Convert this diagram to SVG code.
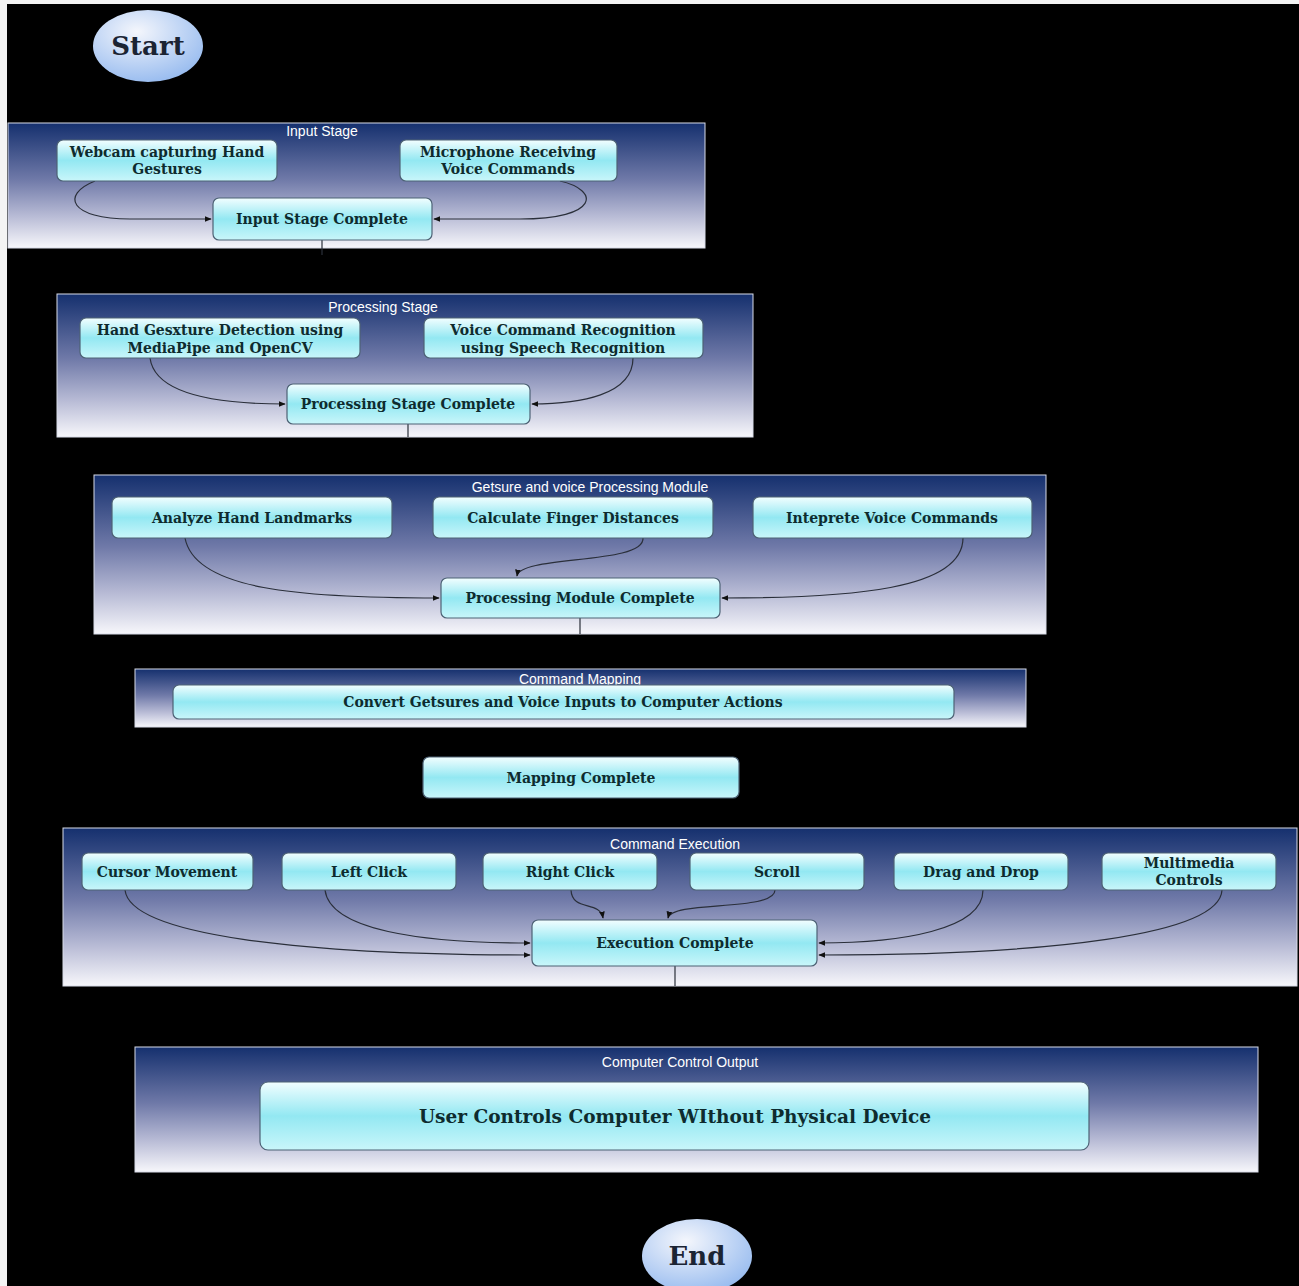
<svg xmlns="http://www.w3.org/2000/svg" width="1299" height="1286" viewBox="0 0 1299 1286">
<defs>
<linearGradient id="gCl" x1="0" y1="0" x2="0" y2="1">
<stop offset="0" stop-color="#15306e"/>
<stop offset="0.45" stop-color="#6f79a8"/>
<stop offset="0.75" stop-color="#b9bcd6"/>
<stop offset="1" stop-color="#f7f7fb"/>
</linearGradient>
<linearGradient id="gNode" x1="0" y1="0" x2="0" y2="1">
<stop offset="0" stop-color="#f2feff"/>
<stop offset="0.5" stop-color="#93e8f2"/>
<stop offset="1" stop-color="#c9f6fa"/>
</linearGradient>
<radialGradient id="gEll" cx="0.4" cy="0.3" r="0.8">
<stop offset="0" stop-color="#f4f6fc"/>
<stop offset="1" stop-color="#8fb6ee"/>
</radialGradient>
<marker id="arr" viewBox="0 0 10 10" refX="9" refY="5" markerWidth="6" markerHeight="6" orient="auto">
<path d="M0,1 L10,5 L0,9 z" fill="#111"/>
</marker>
</defs>
<style>
.cl{fill:url(#gCl);stroke:#d8dbe8;stroke-width:1}
.ct{font-family:"Liberation Sans",Arial,sans-serif;font-size:14px;fill:#ffffff;text-anchor:middle}
.nd{fill:url(#gNode);stroke:#4d6275;stroke-width:1.2}
.nt{font-family:"DejaVu Serif","Liberation Serif",serif;font-size:14px;font-weight:bold;fill:#0e2b2e;text-anchor:middle}
.big{font-size:18.5px}
.el{fill:url(#gEll);stroke:none}
.et{font-family:"DejaVu Serif","Liberation Serif",serif;font-size:26px;font-weight:bold;fill:#1b2433;text-anchor:middle}
.ed{fill:none;stroke:#2a2f3a;stroke-width:1.2}
.ln{fill:none;stroke:#2a2f3a;stroke-width:1.2}
</style>
<rect x="0" y="0" width="1299" height="1286" fill="#000"/>
<rect x="0" y="0" width="1299" height="4" fill="#f4f4f4"/>
<rect x="0" y="0" width="7" height="1286" fill="#f4f4f4"/>

<g id="start"><ellipse class="el" cx="148" cy="46" rx="55" ry="36"/><text class="et" x="148" y="55">Start</text></g>

<g id="cluster-input"><rect class="cl" x="8" y="123" width="697" height="125"/><text class="ct" x="322" y="136">Input Stage</text></g>
<g id="cluster-processing"><rect class="cl" x="57" y="294" width="696" height="143"/><text class="ct" x="383" y="312">Processing Stage</text></g>
<g id="cluster-module"><rect class="cl" x="94" y="475" width="952" height="159"/><text class="ct" x="590" y="492">Getsure and voice Processing Module</text></g>
<g id="cluster-mapping"><rect class="cl" x="135" y="669" width="891" height="58"/><text class="ct" x="580" y="684">Command Mapping</text></g>
<g id="cluster-execution"><rect class="cl" x="63" y="828" width="1234" height="158"/><text class="ct" x="675" y="849">Command Execution</text></g>
<g id="cluster-output"><rect class="cl" x="135" y="1047" width="1123" height="125"/><text class="ct" x="680" y="1067">Computer Control Output</text></g>

<g id="connectors">
<path class="ed" d="M95,181 C60,195 70,219 130,219 L211,219" marker-end="url(#arr)"/>
<path class="ed" d="M560,181 C600,190 600,219 520,219 L434,219" marker-end="url(#arr)"/>
<line class="ln" x1="322" y1="240" x2="322" y2="255"/>
<path class="ed" d="M150,358 C155,395 220,404 285,404" marker-end="url(#arr)"/>
<path class="ed" d="M633,358 C633,395 580,404 532,404" marker-end="url(#arr)"/>
<line class="ln" x1="408" y1="424" x2="408" y2="437"/>
<path class="ed" d="M185,538 C195,590 300,598 439,598" marker-end="url(#arr)"/>
<path class="ed" d="M643,538 C645,565 520,555 517,576" marker-end="url(#arr)"/>
<path class="ed" d="M963,538 C963,590 850,598 722,598" marker-end="url(#arr)"/>
<line class="ln" x1="580" y1="618" x2="580" y2="634"/>
<path class="ed" d="M125,890 C130,935 300,955 530,955" marker-end="url(#arr)"/>
<path class="ed" d="M325,890 C330,930 420,943 530,943" marker-end="url(#arr)"/>
<path class="ed" d="M571,890 C572,912 600,900 603,918" marker-end="url(#arr)"/>
<path class="ed" d="M775,890 C775,912 672,900 668,918" marker-end="url(#arr)"/>
<path class="ed" d="M983,890 C983,930 900,943 819,943" marker-end="url(#arr)"/>
<path class="ed" d="M1222,890 C1220,935 1050,955 819,955" marker-end="url(#arr)"/>
<line class="ln" x1="675" y1="966" x2="675" y2="986"/>
</g>

<g id="n-webcam"><rect class="nd" x="57" y="140" width="220" height="41" rx="6"/><text class="nt" x="167" y="157">Webcam capturing Hand</text><text class="nt" x="167" y="174">Gestures</text></g>
<g id="n-mic"><rect class="nd" x="400" y="140" width="217" height="41" rx="6"/><text class="nt" x="508" y="157">Microphone Receiving</text><text class="nt" x="508" y="174">Voice Commands</text></g>
<g id="n-input-complete"><rect class="nd" x="213" y="198" width="219" height="42" rx="6"/><text class="nt" x="322" y="224">Input Stage Complete</text></g>

<g id="n-hand"><rect class="nd" x="80" y="318" width="280" height="40" rx="6"/><text class="nt" x="220" y="335">Hand Gesxture Detection using</text><text class="nt" x="220" y="353">MediaPipe and OpenCV</text></g>
<g id="n-voice"><rect class="nd" x="424" y="318" width="279" height="40" rx="6"/><text class="nt" x="563" y="335">Voice Command Recognition</text><text class="nt" x="563" y="353">using Speech Recognition</text></g>
<g id="n-proc-complete"><rect class="nd" x="287" y="384" width="243" height="40" rx="6"/><text class="nt" x="408" y="409">Processing Stage Complete</text></g>

<g id="n-analyze"><rect class="nd" x="112" y="497" width="280" height="41" rx="6"/><text class="nt" x="252" y="523">Analyze Hand Landmarks</text></g>
<g id="n-calc"><rect class="nd" x="433" y="497" width="280" height="41" rx="6"/><text class="nt" x="573" y="523">Calculate Finger Distances</text></g>
<g id="n-interp"><rect class="nd" x="753" y="497" width="279" height="41" rx="6"/><text class="nt" x="892" y="523">Inteprete Voice Commands</text></g>
<g id="n-module-complete"><rect class="nd" x="441" y="578" width="279" height="40" rx="6"/><text class="nt" x="580" y="603">Processing Module Complete</text></g>

<g id="n-convert"><rect class="nd" x="173" y="685" width="781" height="34" rx="6"/><text class="nt" x="563" y="707">Convert Getsures and Voice Inputs to Computer Actions</text></g>

<g id="n-mapping-complete"><rect class="nd" x="423" y="757" width="316" height="41" rx="6"/><text class="nt" x="581" y="783">Mapping Complete</text></g>

<g id="n-cursor"><rect class="nd" x="82" y="853" width="171" height="37" rx="6"/><text class="nt" x="167" y="877">Cursor Movement</text></g>
<g id="n-left"><rect class="nd" x="282" y="853" width="174" height="37" rx="6"/><text class="nt" x="369" y="877">Left Click</text></g>
<g id="n-right"><rect class="nd" x="483" y="853" width="174" height="37" rx="6"/><text class="nt" x="570" y="877">Right Click</text></g>
<g id="n-scroll"><rect class="nd" x="690" y="853" width="174" height="37" rx="6"/><text class="nt" x="777" y="877">Scroll</text></g>
<g id="n-drag"><rect class="nd" x="894" y="853" width="174" height="37" rx="6"/><text class="nt" x="981" y="877">Drag and Drop</text></g>
<g id="n-multi"><rect class="nd" x="1102" y="853" width="174" height="37" rx="6"/><text class="nt" x="1189" y="868">Multimedia</text><text class="nt" x="1189" y="885">Controls</text></g>
<g id="n-exec-complete"><rect class="nd" x="532" y="920" width="285" height="46" rx="6"/><text class="nt" x="675" y="948">Execution Complete</text></g>

<g id="n-user"><rect class="nd" x="260" y="1082" width="829" height="68" rx="8"/><text class="nt big" x="675" y="1123">User Controls Computer WIthout Physical Device</text></g>

<g id="end"><ellipse class="el" cx="697" cy="1256" rx="55" ry="37"/><text class="et" x="697" y="1265">End</text></g>
</svg>
